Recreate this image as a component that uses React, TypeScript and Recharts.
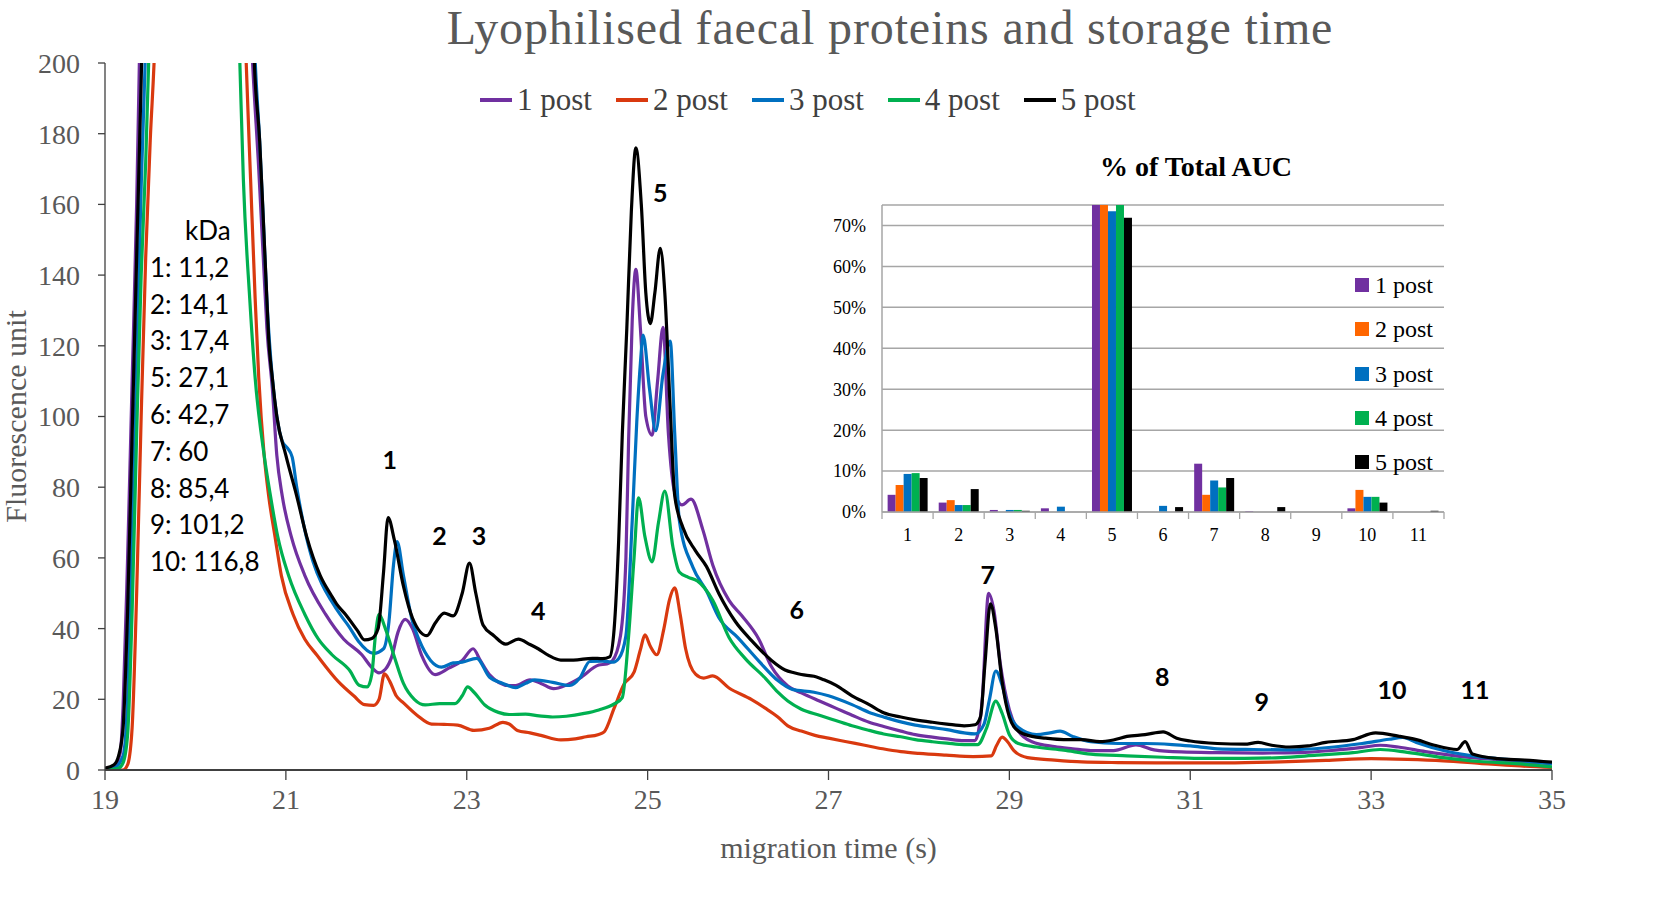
import React from 'react';
import { LineChart, Line, XAxis, YAxis, ReferenceDot, BarChart, Bar, CartesianGrid } from 'recharts';

const SERIF = '"Liberation Serif", "Times New Roman", serif';
const SANS = 'Lato, "Open Sans", sans-serif';

const SERIES_NAMES = ['1 post', '2 post', '3 post', '4 post', '5 post'];
const LINE_COLORS = ['#7030A0', '#D9390F', '#0070C0', '#00B050', '#000000'];
const BAR_COLORS = ['#7030A0', '#FF6600', '#0070C0', '#00B050', '#000000'];

// migration time (s), fluorescence unit
const post1: [number, number][] = [
  [19.0,0],[19.1,1],[19.17,5],[19.2,18],[19.25,60],[19.3,110],[19.35,160],[19.38,200],[19.45,290],[19.6,450],[20.0,600],[20.4,420],[20.55,250],[20.63,201],[20.7,170],[20.75,145],[20.79,125],[20.85,108],[20.9,89],[20.96,77.5],[21.06,66],[21.21,55],[21.44,44],[21.64,37],[21.84,32.6],[21.95,29],[22.03,27.5],[22.1,28.5],[22.17,32],[22.24,39],[22.32,42.6],[22.4,40],[22.5,32.5],[22.65,27],[22.8,28.8],[22.95,31],[23.07,34.3],[23.15,31],[23.25,27],[23.47,23.9],[23.54,23.9],[23.7,25.5],[23.82,24.5],[23.96,23],[24.1,24],[24.25,26],[24.46,29.7],[24.55,30],[24.61,30.9],[24.7,38],[24.76,60],[24.79,93.6],[24.83,127.4],[24.87,141.6],[24.92,125],[24.98,100],[25.05,94.7],[25.11,110],[25.17,125.2],[25.23,95],[25.3,78.5],[25.38,75],[25.48,76.6],[25.61,68],[25.72,58],[25.9,48],[26.04,43.7],[26.23,37],[26.37,29.2],[26.55,23.8],[26.7,21.8],[26.9,19.5],[27.08,17.5],[27.26,15.5],[27.45,13.5],[27.61,12.3],[27.8,11],[27.96,10],[28.15,9.3],[28.31,8.8],[28.5,8.3],[28.62,8.3],[28.7,20],[28.77,50],[28.83,45],[28.9,30],[29.0,17],[29.1,11],[29.25,8],[29.5,6.6],[29.7,6],[29.9,5.5],[30.15,5.5],[30.4,7.1],[30.6,5.7],[30.9,5.1],[31.3,4.9],[31.8,4.8],[32.2,4.9],[32.6,5.6],[32.9,6.4],[33.1,7],[33.3,6.5],[33.6,5.2],[34.0,3.8],[34.4,2.9],[34.8,2.1],[35,1.8],
];
const post2: [number, number][] = [
  [19.0,0],[19.2,0],[19.25,1.5],[19.3,12],[19.35,50],[19.4,100],[19.45,145],[19.5,178],[19.55,205],[19.65,320],[20.0,560],[20.4,380],[20.5,260],[20.56,201],[20.61,167],[20.66,133.5],[20.7,111],[20.76,89],[20.81,77.5],[20.88,66],[20.95,55],[21.08,44],[21.21,37],[21.34,32.6],[21.58,25],[21.75,21],[21.87,18.5],[21.97,18.3],[22.03,20],[22.09,27.2],[22.15,25],[22.22,21],[22.3,19],[22.45,15.5],[22.61,13],[22.75,12.9],[22.9,12.7],[23.08,11.2],[23.25,11.8],[23.4,13.5],[23.47,13],[23.56,11.2],[23.7,10.5],[23.82,9.8],[24.04,8.5],[24.2,8.8],[24.32,9.4],[24.45,10],[24.52,10.8],[24.63,17.5],[24.74,24.3],[24.85,27.7],[24.92,34],[24.97,38.2],[25.03,35],[25.1,32.6],[25.18,40],[25.24,48],[25.3,51.5],[25.36,44],[25.42,34.3],[25.53,27.1],[25.62,26],[25.72,26.6],[25.9,23.2],[26.15,19.9],[26.3,17.5],[26.44,15],[26.55,12.5],[26.7,11],[26.85,9.8],[27.0,9],[27.2,8],[27.4,7],[27.6,6],[27.8,5.2],[28.0,4.7],[28.3,4.2],[28.6,3.8],[28.8,4],[28.86,7],[28.92,9.3],[28.98,8],[29.05,5.5],[29.2,3.5],[29.5,2.8],[29.8,2.3],[30.2,2.1],[30.8,2],[31.4,2],[32.0,2.3],[32.5,2.7],[33.0,3.2],[33.4,3],[33.8,2.6],[34.2,1.9],[34.6,1.2],[35,0.7],
];
const post3: [number, number][] = [
  [19.0,0],[19.1,0.5],[19.2,4],[19.25,20],[19.3,65],[19.35,115],[19.4,165],[19.45,205],[19.6,400],[20.0,600],[20.45,420],[20.6,250],[20.66,201],[20.71,178],[20.75,156],[20.79,133],[20.85,111],[20.9,100],[20.96,93],[21.02,91],[21.07,88.5],[21.12,80],[21.2,69],[21.3,59],[21.4,52.5],[21.5,48],[21.6,44],[21.7,40.5],[21.8,36.5],[21.97,33],[22.08,34.3],[22.14,42],[22.19,58],[22.23,64.6],[22.3,55],[22.4,42],[22.47,37],[22.6,31],[22.72,29.1],[22.85,30.3],[22.95,30.5],[23.11,31.6],[23.25,26.3],[23.4,24.5],[23.54,23.3],[23.65,24.5],[23.75,25.5],[23.95,24.8],[24.14,23.9],[24.25,26],[24.36,30.7],[24.5,30.8],[24.62,30.5],[24.68,31.5],[24.76,38],[24.83,70.7],[24.88,98.5],[24.92,115],[24.95,123],[25.02,108],[25.09,96],[25.17,112],[25.25,121.3],[25.3,95],[25.35,70.7],[25.5,57.4],[25.65,50.7],[25.79,43],[26.0,37.4],[26.23,30.8],[26.44,25.3],[26.6,22.8],[26.84,22],[27.0,21],[27.26,18.5],[27.45,16.3],[27.61,15],[27.8,13.6],[27.96,12.7],[28.15,12],[28.31,11.4],[28.5,10.5],[28.62,10.2],[28.72,13],[28.78,20],[28.85,28],[28.92,24],[29.0,16],[29.1,12],[29.3,10],[29.45,10.5],[29.56,11],[29.7,9.5],[29.9,8],[30.2,7.5],[30.5,7.5],[30.8,7.2],[31.0,6.8],[31.3,6],[31.7,5.8],[32.1,5.7],[32.5,6.3],[32.9,7.5],[33.2,8.7],[33.35,9.2],[33.5,7.8],[33.8,5.5],[34.2,3.7],[34.6,2.8],[35,1.8],
];
const post4: [number, number][] = [
  [19.0,0],[19.15,0.5],[19.2,2],[19.25,10],[19.3,45],[19.35,95],[19.4,140],[19.45,172],[19.5,215],[19.6,330],[20.0,560],[20.3,380],[20.43,250],[20.49,201],[20.53,167],[20.6,133.5],[20.66,111],[20.76,89],[20.83,77.5],[20.91,66],[21.03,55],[21.21,44],[21.36,37],[21.51,32.6],[21.71,28],[21.81,24],[21.9,23.5],[21.95,27],[21.99,38],[22.03,44],[22.1,40],[22.2,32],[22.3,24.5],[22.42,20],[22.54,18.4],[22.7,18.8],[22.87,18.8],[22.95,21],[23.01,23.5],[23.08,22],[23.2,18.4],[23.35,16.3],[23.47,15.7],[23.65,15.8],[23.8,15.3],[23.95,15],[24.1,15.2],[24.3,16],[24.46,17],[24.63,18.7],[24.72,20.5],[24.79,38],[24.85,60],[24.9,77],[24.97,66],[25.05,58.9],[25.12,70],[25.19,78.9],[25.28,63],[25.35,56],[25.45,54.5],[25.55,53.5],[25.72,48],[25.9,37.5],[26.08,31.5],[26.3,26],[26.44,22],[26.55,19.5],[26.7,17.2],[26.9,15.5],[27.08,14],[27.26,12.5],[27.45,11.2],[27.61,10.2],[27.8,9.4],[27.96,8.6],[28.15,8],[28.31,7.6],[28.5,7.2],[28.65,7.2],[28.75,12],[28.85,19.5],[28.92,16],[29.0,10],[29.1,7.5],[29.3,6.5],[29.6,5.6],[29.9,4.5],[30.3,4],[30.7,3.6],[31.1,3.3],[31.6,3.3],[32.0,3.5],[32.4,4.2],[32.8,4.9],[33.1,5.8],[33.4,5],[33.8,3.5],[34.2,2.4],[34.6,1.8],[35,0.9],
];
const post5: [number, number][] = [
  [19.0,0.5],[19.1,1.5],[19.15,4],[19.2,12],[19.25,45],[19.3,95],[19.35,145],[19.4,195],[19.45,250],[19.6,420],[20.0,600],[20.45,420],[20.6,250],[20.65,201],[20.71,178],[20.75,156],[20.79,133],[20.81,122],[20.85,111],[20.9,100],[21.0,89],[21.12,77.5],[21.23,66],[21.38,55],[21.5,49.5],[21.56,47],[21.66,44],[21.79,39.5],[21.87,36.8],[21.95,37.2],[22.02,40],[22.08,56],[22.13,71.4],[22.2,65],[22.3,52],[22.4,43],[22.56,38],[22.65,41.5],[22.75,44.4],[22.85,43.6],[22.95,50],[23.03,58.5],[23.1,50],[23.18,41],[23.3,38],[23.43,35.6],[23.57,37],[23.7,35.5],[23.79,34.3],[23.9,32.5],[24.04,31.1],[24.18,31.1],[24.39,31.6],[24.5,31.5],[24.58,32],[24.63,40],[24.68,65],[24.72,95],[24.77,125],[24.82,158],[24.87,176],[24.93,160],[24.98,135],[25.03,126.3],[25.08,135],[25.14,147.6],[25.19,135],[25.25,102],[25.3,77.5],[25.39,68.6],[25.53,62],[25.65,57.6],[25.79,49.8],[25.97,42],[26.15,36.6],[26.37,31],[26.52,28.3],[26.62,27.5],[26.7,27],[26.84,26.5],[26.95,25.5],[27.08,24],[27.26,21],[27.45,18.5],[27.61,16.2],[27.8,15],[27.96,14.2],[28.15,13.5],[28.31,13],[28.5,12.5],[28.62,12.8],[28.68,15],[28.73,30],[28.79,47],[28.85,40],[28.92,25],[29.0,15],[29.1,11],[29.25,9.5],[29.4,9],[29.6,8.6],[29.8,8.6],[30.0,8],[30.15,8.5],[30.3,9.5],[30.5,10],[30.7,10.8],[30.85,9],[31.0,8.2],[31.3,7.5],[31.6,7.3],[31.75,7.8],[31.9,7],[32.1,6.5],[32.3,6.8],[32.5,7.8],[32.8,8.6],[33.05,10.5],[33.3,9.6],[33.5,8.6],[33.7,7],[33.95,5.8],[34.04,8],[34.12,4.5],[34.4,3.2],[34.7,2.8],[35,2.2],
];
const LINE_SERIES = [post1, post2, post3, post4, post5];

const X_TICKS = [19, 21, 23, 25, 27, 29, 31, 33, 35];
const Y_TICKS = [0, 20, 40, 60, 80, 100, 120, 140, 160, 180, 200];

// peak annotations (label, migration time, fluorescence)
const PEAK_LABELS: { label: string; t: number; v: number }[] = [
  { label: '1', t: 22.15, v: 87.7 },
  { label: '2', t: 22.7, v: 66.2 },
  { label: '3', t: 23.135, v: 66.2 },
  { label: '4', t: 23.79, v: 45 },
  { label: '5', t: 25.14, v: 163.2 },
  { label: '6', t: 26.65, v: 45.3 },
  { label: '7', t: 28.76, v: 55.2 },
  { label: '8', t: 30.69, v: 26.3 },
  { label: '9', t: 31.79, v: 19.2 },
  { label: '10', t: 33.23, v: 22.6 },
  { label: '11', t: 34.15, v: 22.6 },
];

const KDA_LINES = ['1: 11,2', '2: 14,1', '3: 17,4', '5: 27,1', '6: 42,7', '7: 60', '8: 85,4', '9: 101,2', '10: 116,8'];

// inset: % of total AUC
const AUC_CATEGORIES = ['1', '2', '3', '4', '5', '6', '7', '8', '9', '10', '11'];
const auc1 = [4.2, 2.3, 0.5, 0.9, 78, 0, 11.8, 0.2, 0, 0.9, 0];
const auc2 = [6.6, 2.9, 0, 0, 77, 0, 4.2, 0, 0, 5.4, 0];
const auc3 = [9.3, 1.7, 0.5, 1.3, 73.5, 1.5, 7.7, 0, 0, 3.7, 0];
const auc4 = [9.5, 1.7, 0.5, 0, 77, 0, 6.0, 0, 0, 3.7, 0];
const auc5 = [8.3, 5.6, 0.3, 0, 71.9, 1.2, 8.3, 1.2, 0, 2.3, 0.3];
const AUC_SERIES = [auc1, auc2, auc3, auc4, auc5];
const AUC_TICKS = [0, 10, 20, 30, 40, 50, 60, 70];

const lineData = LINE_SERIES.map((s) => s.map(([t, v]) => ({ t, v })));
const aucData = AUC_CATEGORIES.map((c, i) => {
  const row: Record<string, string | number> = { cat: c };
  AUC_SERIES.forEach((s, k) => { row['p' + (k + 1)] = s[i]; });
  return row;
});

// inset layout
const INSET_W = 660;
const INSET_H = 420;
const INSET_MARGIN = { top: 65, right: 16, bottom: 8, left: 0 };
const INSET_YAXIS_W = 82;
const INSET_BAND = (INSET_W - INSET_MARGIN.right - INSET_MARGIN.left - INSET_YAXIS_W) / AUC_CATEGORIES.length;

const InsetTick = (props: any) => {
  const { x, y, payload, index } = props;
  const axisY = y - 8;
  return (
    <g>
      <line x1={x - INSET_BAND / 2} x2={x - INSET_BAND / 2} y1={axisY} y2={axisY + 7} stroke="#A6A6A6" strokeWidth={1.3} />
      {index === AUC_CATEGORIES.length - 1 && (
        <line x1={x + INSET_BAND / 2} x2={x + INSET_BAND / 2} y1={axisY} y2={axisY + 7} stroke="#A6A6A6" strokeWidth={1.3} />
      )}
      <text x={x} y={y + 15} dy="0.35em" textAnchor="middle" fill="#000" fontSize={18} fontFamily={SERIF}>
        {payload.value}
      </text>
    </g>
  );
};

export default function App() {
  return (
    <div style={{ position: 'absolute', left: 0, top: 0, width: 1654, height: 912, background: '#fff', overflow: 'hidden' }}>
      <LineChart width={1654} height={912} margin={{ top: 63, right: 102, bottom: 47, left: 0 }}>
        <XAxis
          type="number"
          dataKey="t"
          domain={[19, 35]}
          ticks={X_TICKS}
          allowDataOverflow
          height={95}
          tickSize={10}
          tickMargin={9}
          tick={{ fill: '#595959', fontSize: 28, fontFamily: SERIF }}
          axisLine={{ stroke: '#404040', strokeWidth: 2 }}
          tickLine={{ stroke: '#404040', strokeWidth: 1.3 }}
          label={{ value: 'migration time (s)', position: 'insideBottom', offset: 7, fill: '#595959', fontSize: 30, fontFamily: SERIF }}
        />
        <YAxis
          type="number"
          domain={[0, 200]}
          ticks={Y_TICKS}
          allowDataOverflow
          width={105}
          tickSize={7}
          tickMargin={18}
          tick={{ fill: '#595959', fontSize: 28, fontFamily: SERIF }}
          axisLine={{ stroke: '#404040', strokeWidth: 1.3 }}
          tickLine={{ stroke: '#404040', strokeWidth: 1.3 }}
          label={{ value: 'Fluorescence unit', angle: -90, position: 'insideLeft', offset: 15, fill: '#595959', fontSize: 30, fontFamily: SERIF, style: { textAnchor: 'middle' } }}
        />
        {lineData.map((d, i) => (
          <Line
            key={SERIES_NAMES[i]}
            name={SERIES_NAMES[i]}
            data={d}
            dataKey="v"
            type="monotone"
            stroke={LINE_COLORS[i]}
            strokeWidth={3.2}
            dot={false}
            activeDot={false}
            isAnimationActive={false}
          />
        ))}
        {PEAK_LABELS.map((p) => (
          <ReferenceDot
            key={p.label}
            x={p.t}
            y={p.v}
            r={0}
            fill="none"
            stroke="none"
            label={{ value: p.label, position: 'center', fill: '#000', fontSize: 25, fontWeight: 700, fontFamily: SANS }}
          />
        ))}
      </LineChart>

      {/* main title */}
      <div style={{ position: 'absolute', left: 390, width: 1000, top: 1, textAlign: 'center', fontFamily: SERIF, fontSize: 48, lineHeight: '54px', letterSpacing: 0.85, color: '#595959', whiteSpace: 'nowrap' }}>
        Lyophilised faecal proteins and storage time
      </div>

      {/* main legend */}
      <div style={{ position: 'absolute', left: 480, top: 85, height: 30, display: 'flex', alignItems: 'center', gap: 24 }}>
        {SERIES_NAMES.map((n, i) => (
          <div key={n} style={{ display: 'flex', alignItems: 'center' }}>
            <span style={{ display: 'inline-block', width: 32, height: 3.5, background: LINE_COLORS[i], marginRight: 5 }} />
            <span style={{ fontFamily: SERIF, fontSize: 31, lineHeight: '30px', color: '#404040', whiteSpace: 'nowrap' }}>{n}</span>
          </div>
        ))}
      </div>

      {/* kDa list */}
      <div style={{ position: 'absolute', left: 150, top: 212, fontFamily: SANS, fontSize: 26, lineHeight: '36.8px', color: '#000', whiteSpace: 'nowrap' }}>
        <div style={{ paddingLeft: 35 }}>kDa</div>
        {KDA_LINES.map((l) => (
          <div key={l}>{l}</div>
        ))}
      </div>

      {/* inset */}
      <div style={{ position: 'absolute', left: 800, top: 140, width: INSET_W, height: INSET_H }}>
        <BarChart width={INSET_W} height={INSET_H} data={aucData} margin={INSET_MARGIN} barCategoryGap="11%" barGap={0}>
          <CartesianGrid vertical={false} stroke="#A6A6A6" strokeWidth={1.5} />
          <XAxis dataKey="cat" height={40} interval={0} axisLine={{ stroke: '#A6A6A6', strokeWidth: 1.5 }} tickLine={false} tickSize={6} tickMargin={2} tick={<InsetTick />} />
          <YAxis
            type="number"
            domain={[0, 75]}
            ticks={AUC_TICKS}
            allowDataOverflow
            width={INSET_YAXIS_W}
            axisLine={{ stroke: '#A6A6A6', strokeWidth: 1.5 }}
            tickLine={false}
            tickSize={6}
            tickMargin={10}
            tickFormatter={(v: number) => v + '%'}
            tick={{ fill: '#000', fontSize: 18, fontFamily: SERIF }}
          />
          {AUC_SERIES.map((_, k) => (
            <Bar key={k} dataKey={'p' + (k + 1)} name={SERIES_NAMES[k]} fill={BAR_COLORS[k]} isAnimationActive={false} />
          ))}
        </BarChart>
        <div style={{ position: 'absolute', left: 196, width: 400, top: 13, textAlign: 'center', fontFamily: SERIF, fontWeight: 700, fontSize: 28, lineHeight: '28px', color: '#000', whiteSpace: 'nowrap' }}>
          % of Total AUC
        </div>
        <div style={{ position: 'absolute', left: 555, top: 123 }}>
          {SERIES_NAMES.map((n, k) => (
            <div key={n} style={{ display: 'flex', alignItems: 'center', height: 44.3 }}>
              <span style={{ display: 'inline-block', width: 14, height: 14, background: BAR_COLORS[k], marginRight: 6 }} />
              <span style={{ fontFamily: SERIF, fontSize: 24, lineHeight: '24px', color: '#000', whiteSpace: 'nowrap' }}>{n}</span>
            </div>
          ))}
        </div>
      </div>
    </div>
  );
}
